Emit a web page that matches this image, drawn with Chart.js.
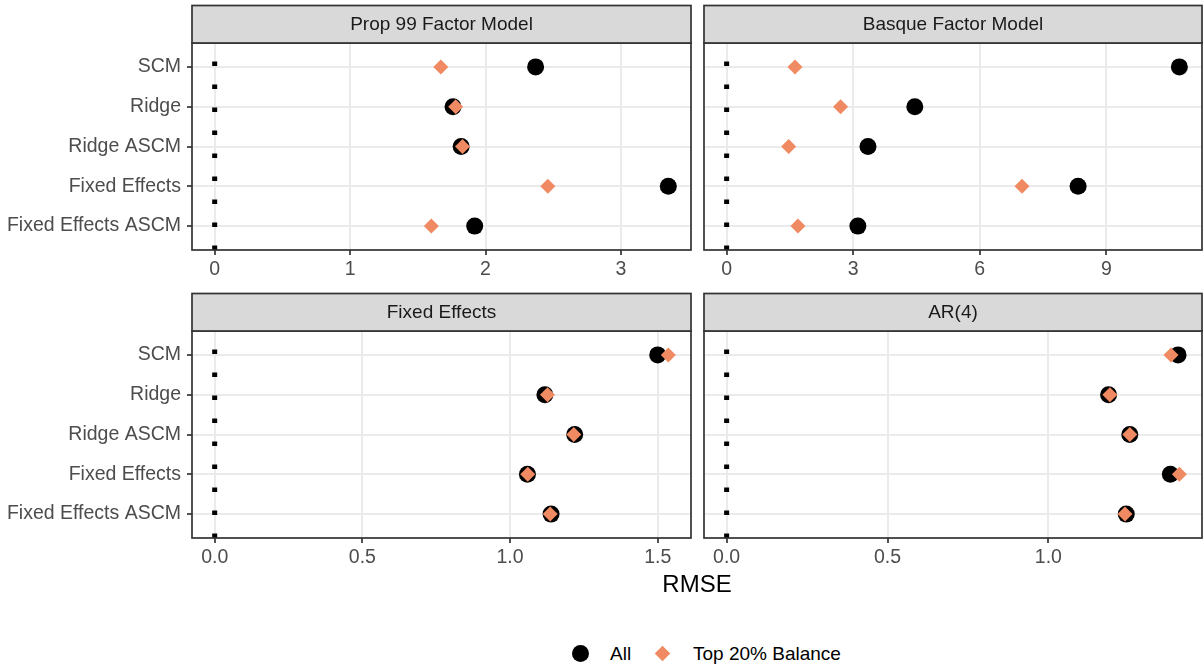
<!DOCTYPE html>
<html>
<head>
<meta charset="utf-8">
<title>RMSE by method</title>
<script src="https://cdn.jsdelivr.net/npm/chart.js@4.4.0/dist/chart.umd.min.js"></script>
<style>
  body {
    margin: 0;
    width: 1204px;
    height: 667px;
    position: relative;
    overflow: hidden;
    background: #fff;
    font-family: "Liberation Sans", Arial, sans-serif;
  }
  canvas { position: absolute; }
  .label { position: absolute; white-space: nowrap; color: #000; }
  .dot {
    position: absolute; width: 17px; height: 17px;
    border-radius: 50%; background: #000;
  }
  .diamond {
    position: absolute; width: 11px; height: 11px;
    background: #EF8A62; transform: rotate(45deg);
  }
</style>
</head>
<body>
<canvas id="p1" width="700" height="290" style="left:0;top:0"></canvas>
<canvas id="p2" width="504" height="290" style="left:700px;top:0"></canvas>
<canvas id="p3" width="700" height="320" style="left:0;top:290px"></canvas>
<canvas id="p4" width="504" height="320" style="left:700px;top:290px"></canvas>

<div class="label" style="left:0;width:1394px;text-align:center;top:572px;font-size:24px;line-height:24px">RMSE</div>

<div class="dot" style="left:572px;top:645px"></div>
<div class="label" style="left:610px;top:644px;font-size:19px;line-height:19px">All</div>
<div class="diamond" style="left:657px;top:648px"></div>
<div class="label" style="left:693px;top:644px;font-size:19px;line-height:19px">Top 20% Balance</div>

<script>
// categories and series
const methods = ["SCM", "Ridge", "Ridge ASCM", "Fixed Effects", "Fixed Effects ASCM"];
const seriesNames = ["All", "Top 20% Balance"];

const prop99All = [2.37, 1.76, 1.82, 3.35, 1.92];
const prop99Top = [1.67, 1.78, 1.83, 2.46, 1.60];
const prop99Ticks = [0, 1, 2, 3];
const prop99TickLabels = ["0", "1", "2", "3"];

const basqueAll = [10.73, 4.46, 3.35, 8.33, 3.11];
const basqueTop = [1.62, 2.70, 1.47, 7.00, 1.69];
const basqueTicks = [0, 3, 6, 9];
const basqueTickLabels = ["0", "3", "6", "9"];

const fixedAll = [1.50, 1.118, 1.219, 1.059, 1.139];
const fixedTop = [1.536, 1.127, 1.216, 1.06, 1.136];
const fixedTicks = [0, 0.5, 1, 1.5];
const fixedTickLabels = ["0.0", "0.5", "1.0", "1.5"];

const arAll = [1.403, 1.187, 1.253, 1.379, 1.242];
const arTop = [1.381, 1.191, 1.253, 1.407, 1.238];
const arTicks = [0, 0.5, 1];
const arTickLabels = ["0.0", "0.5", "1.0"];

const FONT = '"Liberation Sans", Arial, sans-serif';
const STRIP_H = 37.5;
Chart.defaults.font.family = FONT;

// strip, border and dotted zero line, drawn like ggplot facets
const facetPlugin = {
  id: "facet",
  beforeDatasetsDraw(chart) {
    const { ctx, chartArea: a, scales } = chart;
    const x0 = scales.x.getPixelForValue(0);
    ctx.save();
    ctx.strokeStyle = "#000";
    ctx.lineWidth = 5;
    ctx.setLineDash([4.5, 18.5]);
    ctx.beginPath();
    ctx.moveTo(x0, a.bottom);
    ctx.lineTo(x0, a.top);
    ctx.stroke();
    ctx.restore();
  },
  afterDraw(chart, args, opts) {
    const { ctx, chartArea: a } = chart;
    const w = a.right - a.left;
    ctx.save();
    ctx.lineWidth = 1.7;
    ctx.strokeStyle = "#333";
    ctx.strokeRect(a.left, a.top, w, a.bottom - a.top);
    ctx.fillStyle = "#D9D9D9";
    ctx.fillRect(a.left, a.top - STRIP_H, w, STRIP_H);
    ctx.strokeRect(a.left, a.top - STRIP_H, w, STRIP_H);
    ctx.fillStyle = "#1A1A1A";
    ctx.font = "19px " + FONT;
    ctx.textAlign = "center";
    ctx.textBaseline = "middle";
    ctx.fillText(opts.title, a.left + w / 2, a.top - STRIP_H / 2 + 1);
    ctx.restore();
  }
};

function makePanel(id, title, all, top, ticks, tickLabels, showY, area) {
  const canvas = document.getElementById(id);
  const mx = Math.max(...all, ...top);
  new Chart(canvas, {
    type: "scatter",
    data: {
      datasets: [
        {
          label: seriesNames[0],
          data: all.map((v, i) => ({ x: v, y: i + 1 })),
          pointStyle: "circle",
          pointRadius: 8.5,
          pointHoverRadius: 8.5,
          backgroundColor: "#000",
          borderWidth: 0,
          order: 2
        },
        {
          label: seriesNames[1],
          data: top.map((v, i) => ({ x: v, y: i + 1 })),
          pointStyle: "rectRot",
          pointRadius: 7.5,
          pointHoverRadius: 7.5,
          backgroundColor: "#EF8A62",
          borderWidth: 0,
          order: 1
        }
      ]
    },
    options: {
      responsive: false,
      animation: false,
      devicePixelRatio: 1,
      events: [],
      layout: {
        autoPadding: false,
        padding: { top: area.top, right: canvas.width - area.right, left: 0, bottom: 0 }
      },
      plugins: {
        legend: { display: false },
        tooltip: { enabled: false },
        facet: { title: title }
      },
      scales: {
        x: {
          type: "linear",
          min: -0.05 * mx,
          max: 1.05 * mx,
          afterBuildTicks: (s) => { s.ticks = ticks.map((v) => ({ value: v })); },
          afterFit: (s) => {
            s.height = canvas.height - area.bottom;
            s.paddingLeft = 0;
            s.paddingRight = 0;
          },
          ticks: {
            callback: (v, i) => tickLabels[i],
            color: "#4D4D4D",
            font: { size: 19.5 },
            padding: 3,
            maxRotation: 0,
            autoSkip: false
          },
          grid: {
            color: "#EBEBEB",
            lineWidth: 2,
            drawTicks: true,
            tickLength: 5,
            tickColor: "#333",
            tickWidth: 1.7
          },
          border: { display: false }
        },
        y: {
          type: "linear",
          min: 0.4,
          max: 5.6,
          reverse: true,
          afterBuildTicks: (s) => { s.ticks = methods.map((m, i) => ({ value: i + 1 })); },
          afterFit: (s) => {
            s.width = area.left;
            s.paddingTop = 0;
            s.paddingBottom = 0;
          },
          ticks: {
            display: showY,
            callback: (v, i) => methods[i],
            color: "#4D4D4D",
            font: { size: 19.5 },
            padding: 6,
            autoSkip: false
          },
          grid: {
            color: "#EBEBEB",
            lineWidth: 2,
            drawTicks: showY,
            tickLength: 5,
            tickColor: "#333",
            tickWidth: 1.7
          },
          border: { display: false }
        }
      }
    },
    plugins: [facetPlugin]
  });
}

makePanel("p1", "Prop 99 Factor Model", prop99All, prop99Top, prop99Ticks, prop99TickLabels, true,
  { left: 192, top: 43, right: 691, bottom: 250 });
makePanel("p2", "Basque Factor Model", basqueAll, basqueTop, basqueTicks, basqueTickLabels, false,
  { left: 4, top: 43, right: 502, bottom: 250 });
makePanel("p3", "Fixed Effects", fixedAll, fixedTop, fixedTicks, fixedTickLabels, true,
  { left: 192, top: 41, right: 691, bottom: 248 });
makePanel("p4", "AR(4)", arAll, arTop, arTicks, arTickLabels, false,
  { left: 4, top: 41, right: 502, bottom: 248 });
</script>
</body>
</html>
